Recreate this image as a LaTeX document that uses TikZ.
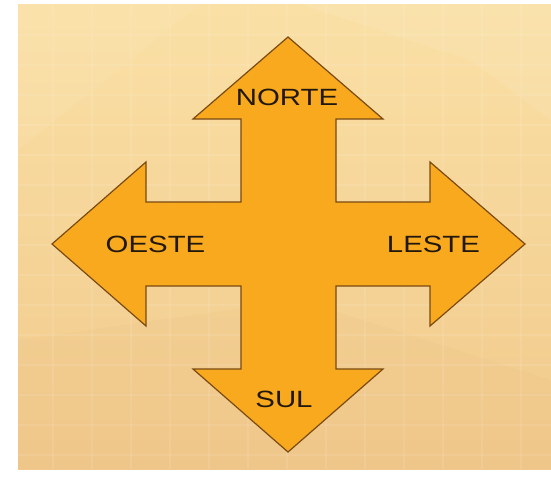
\documentclass[tikz,border=0pt]{standalone}
\usepackage{fontspec}
\usepackage{graphicx}
\setmainfont{Liberation Sans}
\definecolor{bgtop}{HTML}{FAE0A5}
\definecolor{bgbot}{HTML}{F1C98C}
\definecolor{arrowfill}{HTML}{F8A91E}
\definecolor{arrowline}{HTML}{7A4A12}
\definecolor{txt}{HTML}{22180E}
\tikzset{
  lbl/.style={inner sep=0pt, text=txt, font=\fontsize{23.5}{23.5}\selectfont},
  gridline/.style={white, opacity=0.09, line width=1.2pt},
}
\newcommand{\wide}[1]{\scalebox{1.25}[1]{#1}}
\begin{document}
\begin{tikzpicture}[x=1pt,y=-1pt]
\useasboundingbox (0,0) rectangle (551,482);
\fill[white] (0,0) rectangle (551,482);
\shade[top color=bgtop, bottom color=bgbot] (18,4) rectangle (551,469);
% faint lighter facets
\fill[white, opacity=0.08] (300,4) -- (551,4) -- (551,120) -- (470,60) -- cycle;
\fill[white, opacity=0.06] (18,4) -- (200,4) -- (18,150) -- cycle;
\fill[brown, opacity=0.03] (18,340) -- (300,300) -- (551,380) -- (551,469) -- (18,469) -- cycle;
% faint grid
\foreach \gx in {53,92,131,170,209,248,287,326,365,404,443,482,521}
  \draw[gridline] (\gx,4) -- (\gx,469);
\foreach \gy in {35,65,95,125,155,185,215,245,275,305,335,365,395,425,455}
  \draw[gridline] (18,\gy) -- (551,\gy);
% the four-way arrow
\filldraw[fill=arrowfill, draw=arrowline, line width=1.2pt, line join=miter]
  (288,37) -- (383,119) -- (336,119) -- (336,202) -- (430,202) -- (430,162)
  -- (525,244) -- (430,326) -- (430,286) -- (336,286) -- (336,369) -- (383,369)
  -- (288,452) -- (193,369) -- (241,369) -- (241,286) -- (146,286) -- (146,326)
  -- (52,244) -- (146,162) -- (146,202) -- (241,202) -- (241,119) -- (193,119) -- cycle;
\node[lbl] (norte) at (287,97.5) {\wide{NORTE}};
\node[lbl] (oeste) at (155.5,244.5) {\wide{OESTE}};
\node[lbl] (leste) at (433.5,244.5) {\wide{LESTE}};
\node[lbl] (sul) at (284,399) {\wide{SUL}};
\end{tikzpicture}
\end{document}
